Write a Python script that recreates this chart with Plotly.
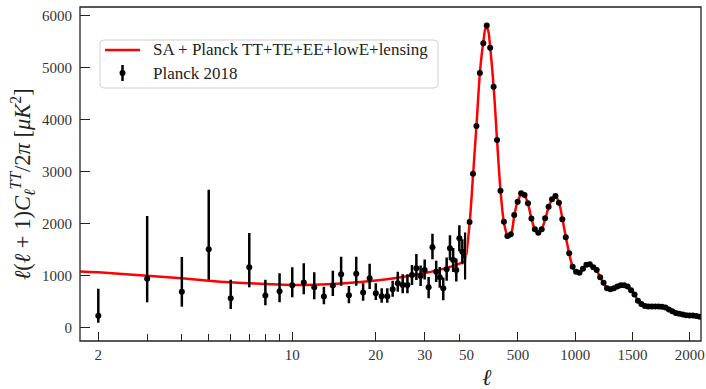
import plotly.graph_objects as go

# ---------------- data ----------------
# low-ell (log axis) Planck 2018 points
ell_lo = [2, 3, 4, 5, 6, 7, 8, 9, 10, 11, 12, 13, 14, 15, 16, 17, 18, 19, 20, 21,
          22, 23, 24, 25, 26, 27, 28, 29, 30, 31, 32, 33, 34, 35, 36, 37, 38, 39, 40, 41, 42]
D_lo = [230, 942, 692, 1505, 564, 1160, 620, 700, 814, 870, 776, 600, 810, 1025, 622, 1035, 675, 949, 661, 606,
        606, 740, 853, 820, 820, 1012, 1141, 993, 1108, 776, 1544, 1076, 968, 757, 1121, 1525, 1300, 1108, 1717, 1460, 1377]
err_plus_lo = [519, 1203, 666, 1146, 358, 659, 302, 344, 346, 367, 288, 188, 285, 339, 178, 329, 178, 280, 192, 151,
               151, 163, 223, 205, 205, 192, 274, 200, 200, 200, 260, 210, 200, 210, 230, 250, 230, 220, 250, 240, 450]
err_minus_lo = [134, 454, 288, 583, 205, 384, 190, 212, 230, 229, 231, 151, 201, 218, 152, 228, 156, 206, 129, 126,
                126, 145, 162, 159, 159, 192, 225, 190, 180, 210, 230, 200, 200, 230, 220, 230, 230, 220, 250, 240, 450]

# high-ell (linear axis) binned Planck 2018 points
ell_hi = [77.6, 107.6, 137.6, 167.6, 197.6, 227.6, 257.6, 287.6, 317.6, 347.6, 377.6, 407.6, 437.6, 467.6,
          497.6, 527.6, 557.6, 587.6, 617.6, 647.6, 677.6, 707.6, 737.6, 767.6, 797.6, 827.6, 857.6, 887.6,
          917.6, 947.6, 977.6, 1007.6, 1037.6, 1067.6, 1097.6, 1127.6, 1157.6, 1187.6, 1217.6, 1247.6, 1277.6,
          1307.6, 1337.6, 1367.6, 1397.6, 1427.6, 1457.6, 1487.6, 1517.6, 1547.6, 1577.6, 1607.6, 1637.6, 1667.6,
          1697.6, 1727.6, 1757.6, 1787.6, 1817.6, 1847.6, 1877.6, 1907.6, 1937.6, 1967.6, 1997.6, 2027.6, 2057.6, 2087.6]
D_hi = [2030, 2958, 3874, 4891, 5462, 5807, 5378, 4628, 3605, 2631, 2036, 1761, 1794, 2164,
        2420, 2581, 2549, 2390, 2100, 1890, 1825, 1890, 2101, 2324, 2466, 2529, 2401, 2082,
        1736, 1429, 1172, 1076, 1056, 1133, 1210, 1218, 1160, 1108, 968, 864, 757,
        737, 757, 790, 815, 815, 790, 720, 640, 520, 455, 417, 410, 410,
        410, 410, 405, 388, 350, 315, 285, 266, 252, 240, 237, 236, 225, 212]

# best-fit theory curve (SA + Planck TT+TE+EE+lowE+lensing)
ell_th_lo = [1.72, 2, 3, 4, 5, 6, 7, 8, 10, 12, 15, 20, 25, 30, 35, 40, 42.4]
D_th_lo = [1080, 1064, 1000, 950, 903, 872, 853, 840, 822, 825, 850, 905, 975, 1050, 1130, 1230, 1300]
ell_th_hi = [50, 80, 110, 140, 170, 200, 220, 235, 260, 290, 320, 350, 380, 410, 425, 445, 470, 500, 530,
             545, 560, 590, 620, 650, 675, 700, 740, 770, 800, 820, 830, 860, 890, 920, 950, 980, 1010,
             1040, 1070, 1100, 1130, 1160, 1190, 1220, 1250, 1280, 1310, 1340, 1370, 1400, 1430, 1460,
             1490, 1520, 1550, 1580, 1610, 1640, 1670, 1700, 1730, 1760, 1790, 1820, 1850, 1880, 1910,
             1940, 1970, 2000, 2030, 2060, 2110]
D_th_hi = [1400, 2050, 2990, 3950, 4950, 5520, 5760, 5740, 5330, 4560, 3520, 2580, 1990, 1760, 1740,
           1830, 2180, 2440, 2570, 2580, 2540, 2360, 2080, 1880, 1820, 1860, 2100, 2330, 2470, 2520,
           2520, 2390, 2070, 1720, 1400, 1160, 1070, 1060, 1130, 1200, 1215, 1160, 1090, 960, 850, 760,
           735, 755, 790, 815, 812, 785, 720, 630, 515, 450, 418, 410, 410, 410, 408, 402, 385, 350,
           314, 284, 265, 252, 241, 236, 233, 224, 210]

x_ticks_lo = [2, 10, 20, 30]
x_minor_lo = [3, 4, 5, 6, 7, 8, 9, 40]
x_ticks_hi = [50, 500, 1000, 1500, 2000]
y_ticks = [0, 1000, 2000, 3000, 4000, 5000, 6000]

legend_labels = ["SA + Planck TT+TE+EE+lowE+lensing", "Planck 2018"]

FONT = "Liberation Serif"
RED = "#ff0000"

fig = go.Figure()

fig.add_trace(go.Scatter(x=ell_th_lo, y=D_th_lo, mode="lines", line=dict(color=RED, width=2.5, shape="spline"),
                         name=legend_labels[0], showlegend=False, xaxis="x", yaxis="y"))
fig.add_trace(go.Scatter(x=ell_th_hi, y=D_th_hi, mode="lines", line=dict(color=RED, width=2.5, shape="spline"),
                         name=legend_labels[0], showlegend=False, xaxis="x2", yaxis="y"))
fig.add_trace(go.Scatter(x=ell_lo, y=D_lo, mode="markers",
                         marker=dict(color="black", size=6),
                         error_y=dict(type="data", symmetric=False, array=err_plus_lo, arrayminus=err_minus_lo,
                                      color="black", thickness=2.5, width=0),
                         name=legend_labels[1], showlegend=False, xaxis="x", yaxis="y"))
fig.add_trace(go.Scatter(x=ell_hi, y=D_hi, mode="markers", marker=dict(color="black", size=6),
                         name=legend_labels[1], showlegend=False, xaxis="x2", yaxis="y"))

# pixel -> paper helpers (plot area: x 80..701, y 7..341)
def px(x):
    return (x - 80) / 621.0

def py(y):
    return (341 - y) / 334.0

# legend box with rounded corners
bx0, bx1, by0, by1 = px(100), px(438), py(88), py(40)
rx, ry = 4 / 621.0, 4 / 334.0
box_path = (f"M {bx0+rx},{by0} L {bx1-rx},{by0} Q {bx1},{by0} {bx1},{by0+ry} "
            f"L {bx1},{by1-ry} Q {bx1},{by1} {bx1-rx},{by1} L {bx0+rx},{by1} "
            f"Q {bx0},{by1} {bx0},{by1-ry} L {bx0},{by0+ry} Q {bx0},{by0} {bx0+rx},{by0} Z")

split = 0.6222
tickfont = dict(family=FONT, size=15, color="#333")
fig.update_layout(
    width=706, height=389,
    margin=dict(l=80, r=5, t=7, b=48, autoexpand=False),
    plot_bgcolor="white", paper_bgcolor="white",
    font=dict(family=FONT, size=15, color="#222"),
    showlegend=False,
    xaxis=dict(type="log", domain=[0, split], range=[0.2351, 1.6274], anchor="y", automargin=False,
               tickmode="array", tickvals=x_ticks_lo, ticktext=[str(v) for v in x_ticks_lo],
               ticks="inside", ticklen=9, tickwidth=1.3, tickcolor="#222",
               minor=dict(tickmode="array", tickvals=x_minor_lo, ticks="inside", ticklen=7,
                          tickwidth=1.3, tickcolor="#222", showgrid=False),
               showgrid=False, zeroline=False, showline=False, tickfont=tickfont,
               ticklabelstandoff=3),
    xaxis2=dict(domain=[split, 1], range=[50, 2098], anchor="y", automargin=False,
                tickmode="array", tickvals=x_ticks_hi, ticktext=[str(v) for v in x_ticks_hi],
                ticks="inside", ticklen=9, tickwidth=1.3, tickcolor="#222",
                showgrid=False, zeroline=False, showline=False, tickfont=tickfont,
                ticklabelstandoff=3),
    yaxis=dict(range=[-255, 6160], tickmode="array", tickvals=y_ticks, automargin=False,
               ticktext=[str(v) for v in y_ticks],
               ticks="inside", ticklen=10, tickwidth=1.3, tickcolor="#222",
               showgrid=False, zeroline=False, showline=False, tickfont=tickfont,
               ticklabelstandoff=7),
    shapes=[
        dict(type="rect", xref="paper", yref="paper", x0=0, y0=0, x1=1, y1=1,
             line=dict(color="#222", width=1.3), fillcolor="rgba(0,0,0,0)", layer="above"),
        dict(type="path", xref="paper", yref="paper", path=box_path,
             line=dict(color="#d0d0d0", width=1), fillcolor="rgba(255,255,255,0.85)", layer="above"),
        dict(type="line", xref="paper", yref="paper", x0=px(105), x1=px(140), y0=py(50), y1=py(50),
             line=dict(color=RED, width=2.5), layer="above"),
        dict(type="line", xref="paper", yref="paper", x0=px(122.5), x1=px(122.5), y0=py(81), y1=py(65),
             line=dict(color="black", width=2.5), layer="above"),
        dict(type="circle", xref="paper", yref="paper", x0=px(119.5), x1=px(125.5), y0=py(76), y1=py(70),
             line=dict(color="black", width=0), fillcolor="black", layer="above"),
    ],
    annotations=[
        dict(text=legend_labels[0], xref="paper", yref="paper", x=px(151), y=py(50), showarrow=False,
             xanchor="left", yanchor="middle", font=dict(family=FONT, size=17, color="#222")),
        dict(text=legend_labels[1], xref="paper", yref="paper", x=px(151), y=py(73), showarrow=False,
             xanchor="left", yanchor="middle", font=dict(family=FONT, size=17, color="#222")),
        dict(text="<i>ℓ</i>(<i>ℓ</i> + 1)<i>C</i><sub><i>ℓ</i></sub><sup><i>TT</i></sup>/2<i>π</i> [<i>μK</i><sup>2</sup>]",
             xref="paper", yref="paper", x=px(22), y=py(184), textangle=-90, showarrow=False,
             xanchor="center", yanchor="middle", font=dict(family=FONT, size=22.5, color="#222")),
        dict(text="<i>ℓ</i>", xref="paper", yref="paper", x=px(487), y=py(377), showarrow=False,
             xanchor="center", yanchor="middle", font=dict(family=FONT, size=23, color="#222")),
    ],
)

fig.write_html("out.html", config={"displayModeBar": False},
               post_script="document.body.style.margin='0px';")
